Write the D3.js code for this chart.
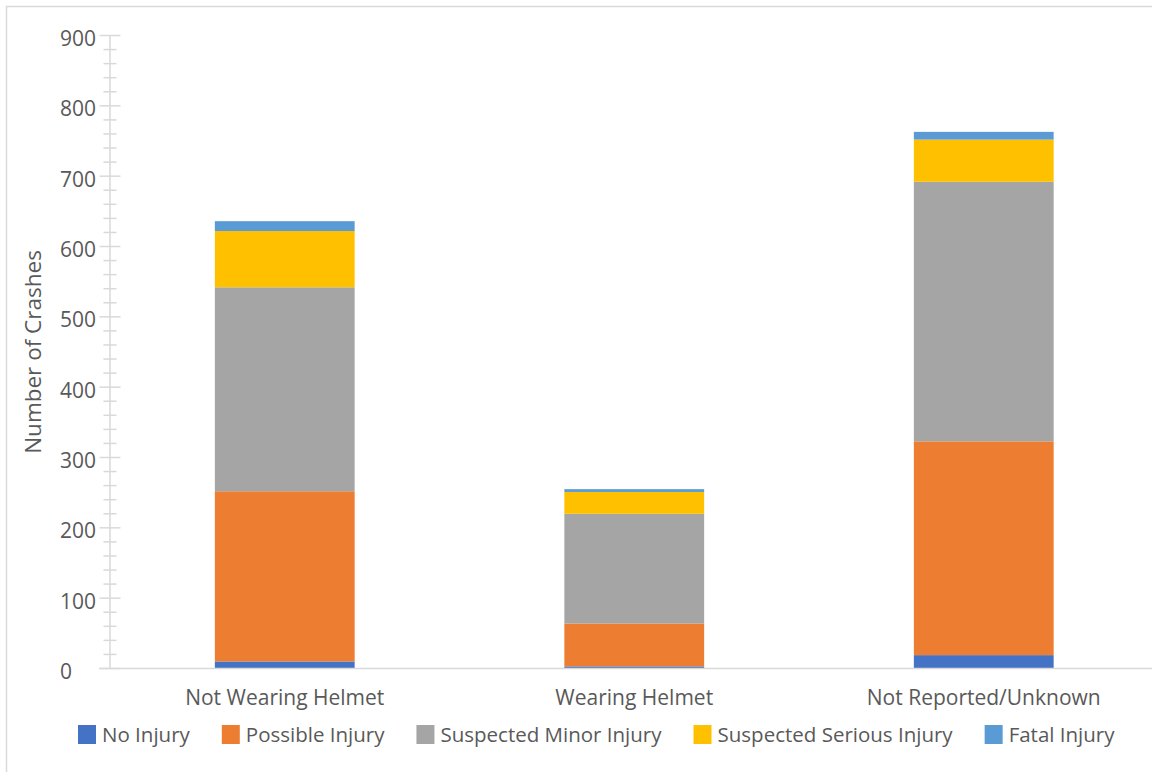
<!DOCTYPE html>
<html>
<head>
<meta charset="utf-8">
<script src="https://cdn.jsdelivr.net/npm/d3@7"></script>
<style>
  html, body { margin: 0; padding: 0; background: #fff; }
  svg { display: block; font-family: "Open Sans", "Noto Sans", sans-serif; }
</style>
</head>
<body>
<svg id="chart" width="1152" height="772"></svg>
<script>
// Helmet use categories and crash counts by injury severity
const categories = ["Not Wearing Helmet", "Wearing Helmet", "Not Reported/Unknown"];
const seriesNames = ["No Injury", "Possible Injury", "Suspected Minor Injury", "Suspected Serious Injury", "Fatal Injury"];
const noInjury = [10, 3, 19];
const possibleInjury = [242, 61, 304];
const suspectedMinor = [290, 156, 369];
const suspectedSerious = [80, 31, 60];
const fatalInjury = [14, 4, 11];
const yTicks = [0, 100, 200, 300, 400, 500, 600, 700, 800, 900];
const colors = ["#4472c4", "#ed7d31", "#a5a5a5", "#ffc000", "#5b9bd5"];

const seriesValues = [noInjury, possibleInjury, suspectedMinor, suspectedSerious, fatalInjury];
const table = categories.map((c, i) => {
  const row = { category: c };
  seriesNames.forEach((s, j) => { row[s] = seriesValues[j][i]; });
  return row;
});

const svg = d3.select("#chart");
const textColor = "#595959";
const gridColor = "#d9d9d9";

// outer chart frame (extends past the right and bottom edge)
svg.append("rect")
  .attr("x", 6.5).attr("y", 6.5)
  .attr("width", 1300).attr("height", 900)
  .attr("fill", "none").attr("stroke", gridColor).attr("stroke-width", 1.5);

const plotLeft = 110, plotRight = 1158.5;
const y = d3.scaleLinear().domain([0, 900]).range([668.5, 35.5]);
const x = d3.scaleBand().domain(categories).range([plotLeft, plotRight]).paddingInner(0.6).paddingOuter(0.3);

const stacked = d3.stack().keys(seriesNames)(table);

// stacked bars
svg.append("g").selectAll("g")
  .data(stacked)
  .join("g")
  .attr("fill", (d, i) => colors[i])
  .selectAll("rect")
  .data(d => d)
  .join("rect")
  .attr("x", d => x(d.data.category))
  .attr("width", x.bandwidth())
  .attr("y", d => y(d[1]))
  .attr("height", d => y(d[0]) - y(d[1]));

// y axis: line, major and minor ticks
const axisG = svg.append("g");
axisG.append("line")
  .attr("x1", plotLeft).attr("x2", plotLeft)
  .attr("y1", y(900)).attr("y2", y(0))
  .attr("stroke", gridColor).attr("stroke-width", 1.5);
const minorTicks = d3.range(0, 901, 20).filter(v => v % 100 !== 0);
axisG.selectAll("line.minor").data(minorTicks).join("line")
  .attr("class", "minor")
  .attr("x1", plotLeft - 6.5).attr("x2", plotLeft + 6.5)
  .attr("y1", d => y(d)).attr("y2", d => y(d))
  .attr("stroke", gridColor).attr("stroke-width", 1.5);
axisG.selectAll("line.major").data(yTicks).join("line")
  .attr("class", "major")
  .attr("x1", plotLeft - 10.5).attr("x2", plotLeft + 10.5)
  .attr("y1", d => y(d)).attr("y2", d => y(d))
  .attr("stroke", gridColor).attr("stroke-width", 1.5);
axisG.selectAll("text").data(yTicks).join("text")
  .attr("x", 60).attr("y", d => y(d))
  .attr("dy", "0.5em")
  .attr("text-anchor", "start")
  .attr("font-size", 21)
  .attr("fill", textColor)
  .text(d => d);

// x axis baseline
svg.append("line")
  .attr("x1", 99).attr("x2", 1152)
  .attr("y1", y(0)).attr("y2", y(0))
  .attr("stroke", gridColor).attr("stroke-width", 1.5);

// category labels
svg.append("g").selectAll("text").data(categories).join("text")
  .attr("x", d => x(d) + x.bandwidth() / 2)
  .attr("y", 705)
  .attr("text-anchor", "middle")
  .attr("font-size", 21)
  .attr("fill", textColor)
  .text(d => d);

// y axis title
svg.append("text")
  .attr("transform", "translate(41,352) rotate(-90)")
  .attr("text-anchor", "middle")
  .attr("font-size", 22.5)
  .attr("fill", textColor)
  .text("Number of Crashes");

// legend
const legend = svg.append("g");
let lx = 78;
seriesNames.forEach((name, i) => {
  legend.append("rect")
    .attr("x", lx).attr("y", 725)
    .attr("width", 18).attr("height", 19)
    .attr("fill", colors[i]);
  const t = legend.append("text")
    .attr("x", lx + 24).attr("y", 742)
    .attr("font-size", 20.5)
    .attr("fill", textColor)
    .text(name);
  lx += 24 + t.node().getComputedTextLength() + 32;
});
</script>
</body>
</html>
